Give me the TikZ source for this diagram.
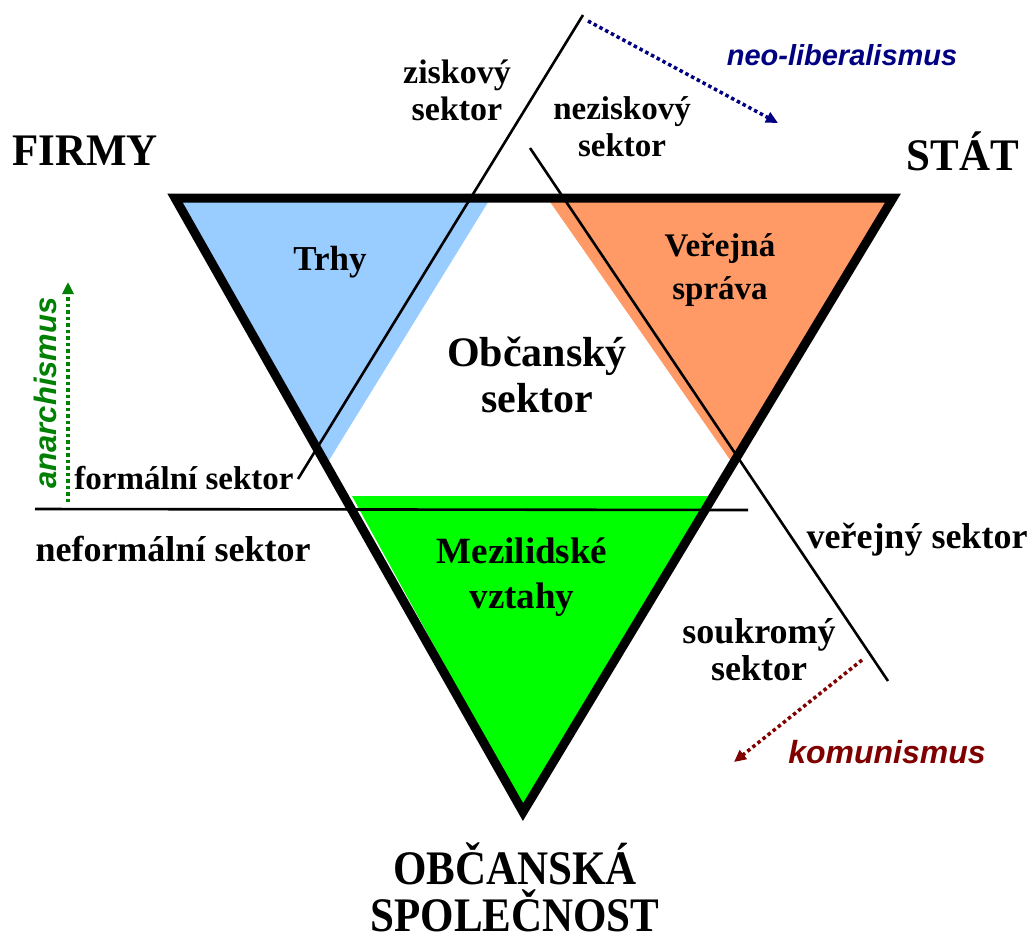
\documentclass[tikz,border=0pt]{standalone}
\usepackage{fontspec}
\setmainfont{Liberation Serif}
\newfontfamily\ismfont{Liberation Sans}
\usetikzlibrary{arrows.meta}
\definecolor{trhyblue}{RGB}{153,204,255}
\definecolor{spravaorange}{RGB}{255,153,102}
\definecolor{vztahgreen}{RGB}{0,255,0}
\definecolor{navyblue}{RGB}{0,0,128}
\definecolor{darkred}{RGB}{128,0,0}
\definecolor{darkgreen}{RGB}{0,128,0}
\tikzset{
  bigcap/.style={font=\fontsize{43}{46}\selectfont\bfseries, align=center, inner sep=0pt},
  region/.style={font=\fontsize{34}{43}\selectfont\bfseries, align=center, inner sep=0pt},
  sectorlbl/.style={font=\fontsize{33}{37}\selectfont\bfseries, align=center, inner sep=0pt},
  sectorbig/.style={font=\fontsize{36}{37}\selectfont\bfseries, align=center, inner sep=0pt},
  ism/.style={font=\fontsize{31}{32}\selectfont\ismfont\bfseries\itshape, inner sep=0pt},
  thinline/.style={line width=2.6pt},
  ismarrow/.style={line width=3.5pt, dash pattern=on 3.5pt off 3pt, -{Triangle[length=12pt,width=11pt]}},
}
\begin{document}
\begin{tikzpicture}[x=1pt,y=-1pt]
\useasboundingbox (0,0) rectangle (1032,938);
% corners
\coordinate (TL) at (175,198);
\coordinate (TR) at (893,198);
\coordinate (B) at (523,812);
% fills
\fill[trhyblue] (176,199) -- (490,199) -- (328,462) -- cycle;
\fill[spravaorange] (548,199) -- (892,199) -- (733,464) -- cycle;
\fill[vztahgreen] (352,496) -- (711,496) -- (523,808) -- cycle;
% thin dividing lines
\coordinate (z1) at (583,15);
\coordinate (z2) at (298,479);
\coordinate (v1) at (530,148);
\coordinate (v2) at (888,681);
\coordinate (f1) at (35,509);
\coordinate (f2) at (748,510);
\draw[thinline] (z1) -- (z2);
\draw[thinline] (v1) -- (v2);
\draw[thinline] (f1) -- (f2);
% main triangle
\draw[line width=9pt, line join=miter] (TL) -- (TR) -- (B) -- cycle;
% corner labels
\node[bigcap, yscale=1.05] (firmy) at (85,151) {FIRMY};
\node[bigcap, yscale=1.05] (stat) at (963,151) {STÁT};
\node[bigcap, anchor=base, yscale=1.12] (obcsp1) at (515,884) {OBČANSKÁ};
\node[bigcap, anchor=base, yscale=1.12] (obcsp2) at (515,931) {SPOLEČNOST};
% region labels
\node[region, font=\fontsize{35}{43}\selectfont\bfseries] (trhy) at (330,262) {Trhy};
\node[region, font=\fontsize{33}{43}\selectfont\bfseries] (sprava) at (720,270) {Veřejná\\správa};
\node[region, font=\fontsize{42}{46}\selectfont\bfseries] (obcsek) at (537,375) {Občanský\\sektor};
\node[region, font=\fontsize{37}{45}\selectfont\bfseries] (mezi) at (522,577) {Mezilidské\\vztahy};
% sector labels
\node[sectorlbl, font=\fontsize{34}{37}\selectfont\bfseries] (zisk) at (457,90) {ziskový\\sektor};
\node[sectorlbl] (nezisk) at (622,127) {neziskový\\sektor};
\node[sectorlbl] (formal) at (184,478) {formální sektor};
\node[sectorbig] (neformal) at (173,549) {neformální sektor};
\node[sectorbig] (verejny) at (917,540) {veřejný sektor};
\node[sectorbig] (soukromy) at (759,650) {soukromý\\sektor};
% ideology arrows
\coordinate (nl1) at (588,21);
\coordinate (nl2) at (778,123);
\draw[ismarrow, navyblue] (nl1) -- (nl2);
\node[ism, font=\fontsize{29}{32}\selectfont\ismfont\bfseries\itshape, navyblue] (neolib) at (842,55) {neo-liberalismus};
\coordinate (an1) at (68,502);
\coordinate (an2) at (68,282);
\draw[ismarrow, darkgreen] (an1) -- (an2);
\node[ism, darkgreen, rotate=90] (anarch) at (45,393) {anarchismus};
\coordinate (ko1) at (862,660);
\coordinate (ko2) at (734,762);
\draw[ismarrow, darkred] (ko1) -- (ko2);
\node[ism, font=\fontsize{32}{32}\selectfont\ismfont\bfseries\itshape, darkred] (komun) at (887,752) {komunismus};
\end{tikzpicture}
\end{document}
